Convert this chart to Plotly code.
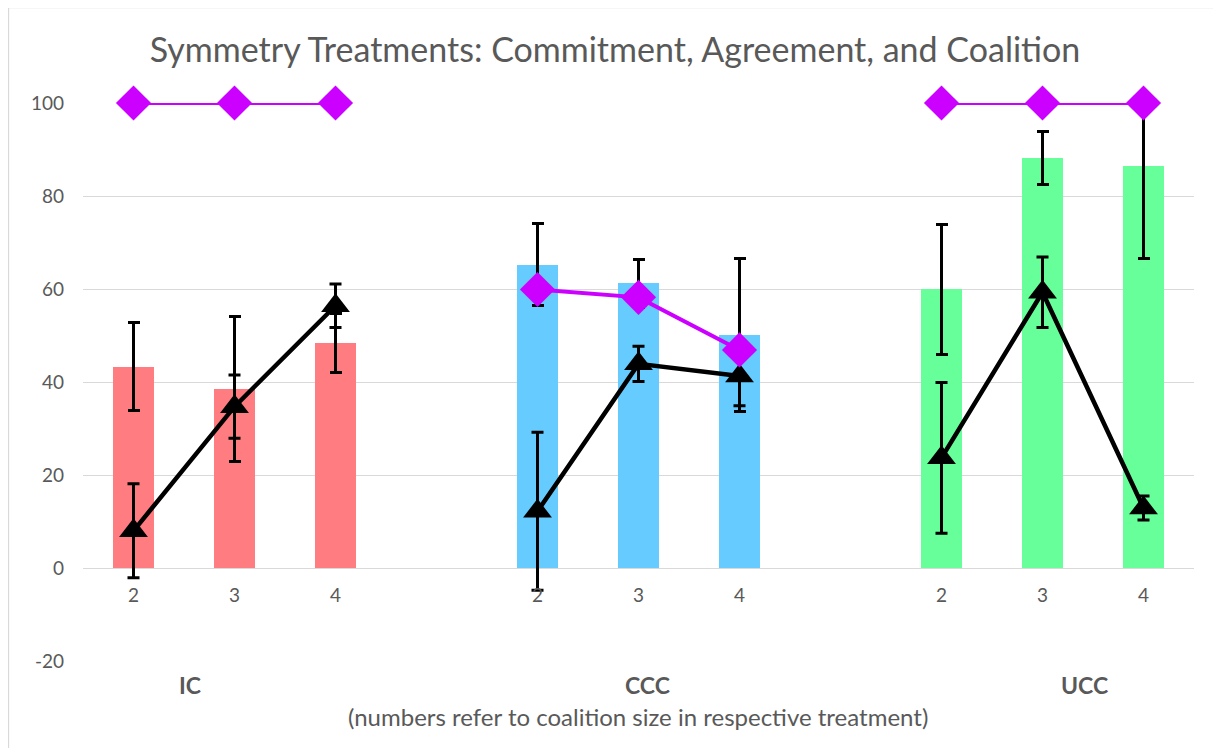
import plotly.graph_objects as go

# ---- data ----
treatments = ["IC", "CCC", "UCC"]
coalition_sizes = ["2", "3", "4"]

# one value per treatment x coalition size (IC 2,3,4 | CCC 2,3,4 | UCC 2,3,4)
bar_values = [43.3, 38.5, 48.4, 65.2, 61.2, 50.1, 59.9, 88.2, 86.5]
bar_errors = [9.4, 15.5, 6.3, 8.8, 5.2, 16.4, 13.9, 5.7, 20.0]
triangle_values = [8.0, 34.7, 56.4, 12.2, 43.9, 41.3, 23.7, 59.3, 12.9]
triangle_errors = [10.1, 6.8, 4.7, 17.0, 3.8, 6.4, 16.2, 7.6, 2.6]
diamond_values = [100, 100, 100, 59.9, 58.2, 46.9, 100, 100, 100]

y_ticks = [-20, 0, 20, 40, 60, 80, 100]

bar_colors = {"IC": "#FF7C80", "CCC": "#66CCFF", "UCC": "#66FF99"}

Y_MIN, Y_MAX = -20, 100

# ---- layout of categories: groups separated by one empty slot ----
n = len(coalition_sizes)
xs, colors, ticktext = [], [], []
for g, t in enumerate(treatments):
    for i, s in enumerate(coalition_sizes):
        xs.append(g * (n + 1) + i)
        colors.append(bar_colors[t])
        ticktext.append(s)


def with_gaps(vals):
    """Insert None between treatment groups so lines break."""
    out_x, out_y = [], []
    for g in range(len(treatments)):
        for i in range(n):
            k = g * n + i
            out_x.append(xs[k])
            out_y.append(vals[k])
        if g < len(treatments) - 1:
            out_x.append(g * (n + 1) + n)
            out_y.append(None)
    return out_x, out_y


def clipped_plus(vals, errs):
    return [min(v + e, Y_MAX) - v for v, e in zip(vals, errs)]


def gap_list(lst):
    out = []
    for g in range(len(treatments)):
        out.extend(lst[g * n:(g + 1) * n])
        if g < len(treatments) - 1:
            out.append(None)
    return out


fig = go.Figure()

fig.add_trace(go.Bar(
    x=xs, y=bar_values, width=0.4,
    marker=dict(color=colors, line=dict(width=0)),
    error_y=dict(type="data", symmetric=False,
                 array=clipped_plus(bar_values, bar_errors),
                 arrayminus=bar_errors,
                 color="black", thickness=3, width=6),
    showlegend=False, hoverinfo="skip",
))

tx, ty = with_gaps(triangle_values)
fig.add_trace(go.Scatter(
    x=tx, y=ty, mode="lines+markers", connectgaps=False,
    line=dict(color="black", width=4.5),
    marker=dict(symbol="triangle-up", size=25, color="black"),
    error_y=dict(type="data", symmetric=False,
                 array=gap_list(clipped_plus(triangle_values, triangle_errors)),
                 arrayminus=gap_list(triangle_errors),
                 color="black", thickness=3, width=6),
    cliponaxis=False, showlegend=False, hoverinfo="skip",
))

dx, dy = with_gaps(diamond_values)
fig.add_trace(go.Scatter(
    x=dx, y=dy, mode="lines+markers", connectgaps=False,
    line=dict(color="#CC00FF", width=4),
    marker=dict(symbol="diamond", size=27, color="#CC00FF"),
    cliponaxis=False, showlegend=False, hoverinfo="skip",
))

# page body has an 8px margin: size the figure to fit the 1221x756 window
OFF = 8
W, H = 1221 - 2 * OFF, 756 - 2 * OFF
L, T = 83 - OFF, 103 - OFF
pw, ph = 1111, 558
R, B = W - L - pw, H - T - ph

font_family = "Lato, 'Open Sans', sans-serif"

annotations = []
group_label_x = [0.56, 5.09, 9.42]
for t, gx in zip(treatments, group_label_x):
    annotations.append(dict(
        x=gx, y=(661 - 685) / ph, xref="x", yref="paper",
        text=f"<b>{t}</b>", showarrow=False,
        font=dict(family=font_family, size=23, color="#595959"),
        xanchor="center", yanchor="middle",
    ))
annotations.append(dict(
    x=(638 - 83) / pw, y=(661 - 716) / ph, xref="paper", yref="paper",
    text="(numbers refer to coalition size in respective treatment)",
    showarrow=False,
    font=dict(family=font_family, size=24, color="#595959"),
    xanchor="center", yanchor="middle",
))

fig.update_layout(
    width=W, height=H,
    margin=dict(l=L, r=R, t=T, b=B, pad=0),
    paper_bgcolor="white", plot_bgcolor="white",
    title=dict(
        text="Symmetry Treatments: Commitment, Agreement, and Coalition",
        x=(615 - OFF) / W, xanchor="center", xref="container",
        y=1 - (50 - OFF) / H, yanchor="middle", yref="container",
        font=dict(family=font_family, size=34, color="#595959"),
    ),
    xaxis=dict(
        range=[-0.5, xs[-1] + 0.5],
        tickmode="array", tickvals=xs, ticktext=ticktext,
        showgrid=False, zeroline=False, showline=False, ticks="",
        anchor="free", position=(0 - Y_MIN) / (Y_MAX - Y_MIN),
        ticklabelstandoff=14,
        tickfont=dict(family=font_family, size=19, color="#595959"),
    ),
    yaxis=dict(
        range=[Y_MIN, Y_MAX],
        tickmode="array", tickvals=y_ticks,
        ticktext=[str(v) for v in y_ticks],
        showgrid=True, gridcolor="#D9D9D9", gridwidth=1.3,
        zeroline=False, showline=False, ticks="",
        ticklabelstandoff=18,
        tickfont=dict(family=font_family, size=19, color="#595959"),
    ),
    annotations=annotations,
    shapes=[dict(
        type="rect", xref="paper", yref="paper",
        x0=(8.5 - 83) / pw, x1=1.2,
        y0=-0.4, y1=(661 - 7.5) / ph,
        line=dict(color="#D9D9D9", width=1.3), layer="below",
    )],
    bargap=0,
)

fig.write_html("out.html")
